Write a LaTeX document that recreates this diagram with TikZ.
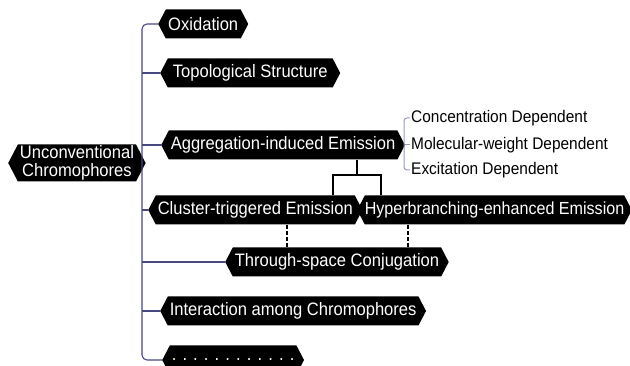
\documentclass[tikz,border=0pt]{standalone}
\usepackage{fontspec}
\setmainfont{Liberation Sans}[FakeStretch=0.92]
\usetikzlibrary{positioning,shapes.symbols}
\definecolor{trunkblue}{RGB}{72,72,128}
\definecolor{bracegray}{RGB}{150,158,182}

\begin{document}
\begin{tikzpicture}[x=1pt, y=1pt,
        item/.style={signal, signal to=west and east, signal pointer angle=125, fill=black, text=white, inner xsep=2pt, inner ysep=0pt, minimum height=29pt, font=\fontsize{18}{18}\selectfont, anchor=west},
        sub/.style={inner xsep=1pt, inner ysep=0pt, font=\fontsize{16.8}{17}\selectfont, anchor=west},
        trunk/.style={draw=trunkblue, line width=1.1pt},
        brace/.style={draw=bracegray, line width=1pt},
        tie/.style={draw=black, line width=1.3pt},
        link/.style={draw=black, line width=1.5pt, dash pattern=on 4pt off 2pt},
    ]
    \useasboundingbox (0,0) rectangle (630,-366);

    \node[item, minimum height=37pt, minimum width=129pt, align=center] (root) at (8,-163) {Unconventional\\Chromophores};
    \node[item, minimum width=90pt] (ox) at (158,-24) {Oxidation};
    \node[item, minimum width=180pt] (topo) at (160,-73) {Topological Structure};
    \node[item, minimum width=237pt] (aie) at (161,-145) {Aggregation-induced Emission};
    \node[item, minimum width=202pt] (cte) at (148,-210) {Cluster-triggered Emission};
    \node[item, minimum width=273pt, inner xsep=0pt, font=\fontsize{17.5}{18}\selectfont] (hee) at (357,-210) {Hyperbranching-enhanced Emission};
    \node[item, minimum width=218pt] (tsc) at (225,-262) {Through-space Conjugation};
    \node[item, minimum width=260pt] (iac) at (160,-311) {Interaction among Chromophores};
    \node[item, minimum width=130pt] (more) at (162,-360) {. . . . . . . . . . . .};

    \node[sub] (conc) at (410,-118) {Concentration Dependent};
    \node[sub] (mol) at (410,-145) {Molecular-weight Dependent};
    \node[sub] (exc) at (410,-170) {Excitation Dependent};

    \coordinate (spine) at (142,0);
    \coordinate (fork) at (357,-175);
    \coordinate (forkL) at (333,-175);
    \coordinate (forkR) at (381,-175);
    \coordinate (dashL) at (287,0);
    \coordinate (dashR) at (408,0);

    % main trunk
    \draw[trunk, rounded corners=5pt] (ox.west) -| (spine |- more.west) -- (more.west);
    \foreach \n in {topo, aie, cte, tsc, iac}
        \draw[trunk] (\n.west -| spine) -- (\n.west);

    % dependence bracket
    \draw[brace] (aie.east) -- (mol.west);
    \draw[brace, rounded corners=3pt] (conc.west) -- ++(-6,0) |- (exc.west);

    % AIE split
    \draw[tie] (aie.south -| fork) -- (fork);
    \draw[tie] (cte.north -| forkL) -- (forkL) -- (forkR) -- (hee.north -| forkR);

    \draw[link] (cte.south -| dashL) -- (tsc.north -| dashL);
    \draw[link] (hee.south -| dashR) -- (tsc.north -| dashR);
\end{tikzpicture}
\end{document}
